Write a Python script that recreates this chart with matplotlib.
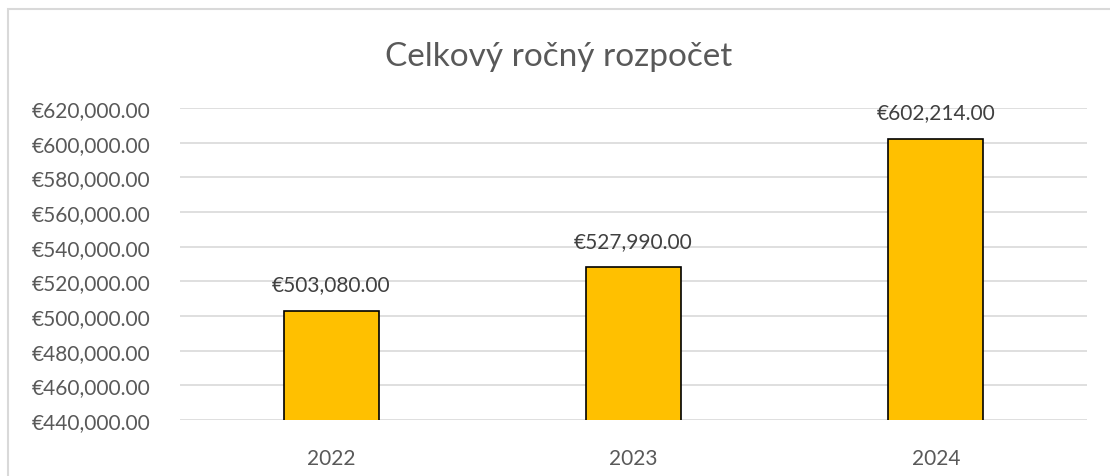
import matplotlib
matplotlib.use("Agg")
import matplotlib.pyplot as plt
from matplotlib.patches import Rectangle
from matplotlib.ticker import FuncFormatter

years = ["2022", "2023", "2024"]
budget = [503080.00, 527990.00, 602214.00]
title = "Celkový ročný rozpočet"

plt.rcParams['font.family'] = ['Lato', 'DejaVu Sans']
W, H = 1110, 477
fig = plt.figure(figsize=(W/100, H/100), dpi=100)
fig.patch.set_facecolor('white')
fig.patches.append(Rectangle((8/W, -0.1), 1.2, 1 - 10/H + 0.1, transform=fig.transFigure,
                             fill=False, edgecolor='#D9D9D9', linewidth=1.5))

ax = fig.add_axes([180/W, 1 - 421/H, (1087-180)/W, (421-109)/H])
x = range(len(years))
ax.bar(x, budget, width=0.315, color='#FFC000', edgecolor='black', linewidth=1.2, zorder=3)
ax.set_ylim(440000, 620000)
ax.set_xlim(-0.5, 2.5)
ax.set_yticks(range(440000, 620001, 20000))
ax.yaxis.set_major_formatter(FuncFormatter(lambda v, p: f"€{v:,.2f}"))
ax.set_xticks(list(x))
ax.set_xticklabels(years)
ax.grid(axis='y', color='#D9D9D9', linewidth=1.2, zorder=0)
for s in ax.spines.values():
    s.set_visible(False)
ax.tick_params(axis='both', length=0, labelsize=15, colors='#595959')
ax.tick_params(axis='y', pad=21)
ax.tick_params(axis='x', pad=20)
for xi, v in zip(x, budget):
    ax.annotate(f"€{v:,.2f}", (xi, v), xytext=(0, 12), textcoords='offset points',
                ha='center', va='bottom', fontsize=15, color='#404040')
fig.text(559/W, 1 - 57/H, title, ha='center', va='center', fontsize=24, color='#595959')
fig.savefig("out.png", dpi=100, facecolor='white')
